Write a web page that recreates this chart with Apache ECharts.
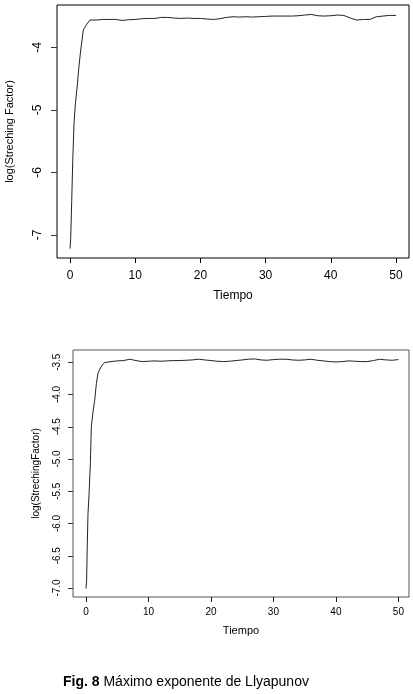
<!DOCTYPE html>
<html>
<head>
<meta charset="utf-8">
<title>Máximo exponente de Llyapunov</title>
<script src="https://cdn.jsdelivr.net/npm/echarts@6/dist/echarts.min.js"></script>
<style>
html, body { margin: 0; padding: 0; background: #ffffff; }
#main { width: 413px; height: 694px; }
</style>
</head>
<body>
<div id="main"></div>
<script>
// datos (grafico superior)
var tiempo1 = [0, 0.1, 0.26, 0.41, 0.61, 0.82, 1.12, 1.33, 1.64, 2.04, 2.56, 3.07,
  4, 5, 6, 7, 8, 9, 10, 11, 12, 13, 14, 15, 16, 17, 18, 19, 20, 21, 22, 23, 24, 25,
  26, 27, 28, 29, 30, 31, 32, 33, 34, 35, 36, 37, 38, 39, 40, 41, 42, 43, 44, 45, 46,
  47, 48, 49, 50];
var valores1 = [-7.22, -7.06, -6.45, -5.83, -5.22, -4.90, -4.60, -4.34, -4.04, -3.72, -3.63, -3.56,
  -3.561, -3.551, -3.551, -3.551, -3.567, -3.556, -3.551, -3.540, -3.535, -3.535, -3.519, -3.519,
  -3.529, -3.535, -3.529, -3.535, -3.535, -3.545, -3.551, -3.540, -3.519, -3.508, -3.513, -3.508,
  -3.513, -3.508, -3.503, -3.497, -3.497, -3.497, -3.497, -3.492, -3.481, -3.471, -3.492, -3.497,
  -3.492, -3.481, -3.487, -3.529, -3.561, -3.551, -3.551, -3.508, -3.497, -3.487, -3.487];

// datos del grafico inferior
var tiempo2 = [0, 0.1, 0.2, 0.32, 0.48, 0.7, 0.85, 1.12, 1.39, 1.66, 1.92, 2.2, 2.6, 3.0,
  4, 5, 6, 7, 8, 9, 10, 11, 12, 13, 14, 15, 16, 17, 18, 19, 20, 21, 22, 23, 24, 25,
  26, 27, 28, 29, 30, 31, 32, 33, 34, 35, 36, 37, 38, 39, 40, 41, 42, 43, 44, 45, 46,
  47, 48, 49, 50];
var valores2 = [-7.01, -6.88, -6.36, -5.85, -5.56, -5.07, -4.50, -4.27, -4.09, -3.83, -3.67, -3.61, -3.54, -3.505,
  -3.490, -3.479, -3.474, -3.453, -3.474, -3.490, -3.484, -3.479, -3.484, -3.479, -3.474, -3.474,
  -3.469, -3.464, -3.453, -3.464, -3.474, -3.484, -3.490, -3.484, -3.474, -3.464, -3.453, -3.448,
  -3.464, -3.469, -3.459, -3.453, -3.453, -3.464, -3.469, -3.464, -3.453, -3.469, -3.479, -3.490,
  -3.495, -3.490, -3.479, -3.484, -3.490, -3.490, -3.474, -3.453, -3.464, -3.469, -3.459];

// marcas de los ejes
var ticksX = [0, 10, 20, 30, 40, 50];
var ticksY1 = [-7, -6, -5, -4];
var ticksY2 = [-7.0, -6.5, -6.0, -5.5, -5.0, -4.5, -4.0, -3.5];

var tituloX = 'Tiempo';
var tituloY1 = 'log(Streching Factor)';
var tituloY2 = 'log(StrechingFactor)';

// limites de los ejes x (para colocar las marcas del eje y en el borde)
var xMin1 = -2.0, xMax1 = 52.0;
var xMin2 = -2.08, xMax2 = 51.7;

function pares(xs, ys) {
  var out = [];
  for (var i = 0; i < xs.length; i++) out.push([xs[i], ys[i]]);
  return out;
}

// marcas del eje y dibujadas con la escala del propio eje
function marcasY(largo) {
  return function (params, api) {
    var p = api.coord([api.value(0), api.value(1)]);
    var y = Math.round(p[1]) + 0.5;
    return {
      type: 'line',
      shape: { x1: p[0] - largo, y1: y, x2: p[0], y2: y },
      style: { stroke: '#333', lineWidth: 1 }
    };
  };
}

var fuente = 'Liberation Sans, Arial, sans-serif';
var myChart = echarts.init(document.getElementById('main'), null, { renderer: 'canvas' });

var option = {
  backgroundColor: '#ffffff',
  animation: false,
  title: {
    left: 58,
    top: 670,
    text: '{b|Fig. 8} Máximo exponente de Llyapunov',
    textStyle: {
      fontFamily: fuente,
      fontSize: 14,
      fontWeight: 'normal',
      color: '#000',
      rich: {
        b: { fontFamily: fuente, fontSize: 14, fontWeight: 'bold', color: '#000' }
      }
    }
  },
  grid: [
    { left: 57, top: 5, width: 352, height: 253, outerBoundsMode: 'none', show: true, borderColor: '#000', borderWidth: 1, backgroundColor: 'transparent' },
    { left: 73, top: 350, width: 336, height: 247, outerBoundsMode: 'none', show: true, borderColor: '#555', borderWidth: 1, backgroundColor: 'transparent' }
  ],
  xAxis: [
    {
      gridIndex: 0, type: 'value', min: xMin1, max: xMax1, position: 'bottom',
      name: tituloX, nameLocation: 'middle', nameGap: 32,
      nameTextStyle: { fontFamily: fuente, fontSize: 12, color: '#000' },
      axisLine: { show: false, onZero: false },
      splitLine: { show: false },
      axisTick: { show: true, inside: false, length: 5, customValues: ticksX, lineStyle: { color: '#000' } },
      axisLabel: { customValues: ticksX, margin: 12, fontFamily: fuente, fontSize: 12, color: '#000' }
    },
    {
      gridIndex: 1, type: 'value', min: xMin2, max: xMax2, position: 'bottom',
      name: tituloX, nameLocation: 'middle', nameGap: 28,
      nameTextStyle: { fontFamily: fuente, fontSize: 11, color: '#000' },
      axisLine: { show: false, onZero: false },
      splitLine: { show: false },
      axisTick: { show: true, inside: false, length: 5, customValues: ticksX, lineStyle: { color: '#222' } },
      axisLabel: { customValues: ticksX, margin: 10, fontFamily: fuente, fontSize: 10, color: '#000' }
    }
  ],
  yAxis: [
    {
      gridIndex: 0, type: 'value', min: -7.37, max: -3.32, position: 'left',
      name: tituloY1, nameLocation: 'middle', nameGap: 42, nameRotate: 90,
      nameTextStyle: { fontFamily: fuente, fontSize: 11, color: '#000' },
      axisLine: { show: false, onZero: false },
      splitLine: { show: false },
      axisTick: { show: false },
      axisLabel: { customValues: ticksY1, rotate: 90, margin: 13, fontFamily: fuente, fontSize: 12, color: '#000' }
    },
    {
      gridIndex: 1, type: 'value', min: -7.14, max: -3.31, position: 'left',
      name: tituloY2, nameLocation: 'middle', nameGap: 32, nameRotate: 90,
      nameTextStyle: { fontFamily: fuente, fontSize: 10, color: '#000' },
      axisLine: { show: false, onZero: false },
      splitLine: { show: false },
      axisTick: { show: false },
      axisLabel: {
        customValues: ticksY2, rotate: 90, margin: 11, fontFamily: fuente, fontSize: 10, color: '#000',
        formatter: function (v) { return v.toFixed(1); }
      }
    }
  ],
  series: [
    {
      type: 'line', xAxisIndex: 0, yAxisIndex: 0,
      data: pares(tiempo1, valores1),
      showSymbol: false, smooth: false,
      lineStyle: { color: '#222', width: 1 }
    },
    {
      type: 'line', xAxisIndex: 1, yAxisIndex: 1,
      data: pares(tiempo2, valores2),
      showSymbol: false, smooth: false,
      lineStyle: { color: '#222', width: 1 }
    },
    {
      type: 'custom', xAxisIndex: 0, yAxisIndex: 0, clip: false, silent: true,
      data: ticksY1.map(function (v) { return [xMin1, v]; }),
      renderItem: marcasY(6)
    },
    {
      type: 'custom', xAxisIndex: 1, yAxisIndex: 1, clip: false, silent: true,
      data: ticksY2.map(function (v) { return [xMin2, v]; }),
      renderItem: marcasY(5)
    }
  ]
};
myChart.setOption(option);
</script>
</body>
</html>
